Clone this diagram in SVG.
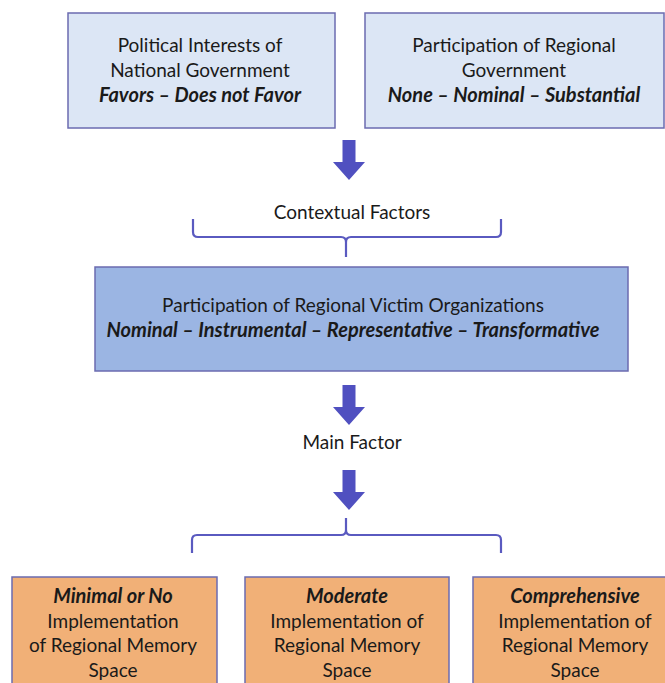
<svg xmlns="http://www.w3.org/2000/svg" width="665" height="683" viewBox="0 0 665 683">
<style>
text{font-family:Lato,"Open Sans","Liberation Sans",sans-serif;font-size:19px;fill:#1a1a1a;text-anchor:middle}
.b{font-weight:bold;font-style:italic;font-size:20px}
.light{fill:#dce6f5;stroke:#6b6bb0;stroke-width:1.5}
.mid{fill:#9bb5e3;stroke:#6b6bb0;stroke-width:1.5}
.orange{fill:#f1b077;stroke:#6b6bb0;stroke-width:1.5}
.arrow{fill:#5050c0}
.brace{fill:none;stroke:#5a5ac0;stroke-width:2.2;stroke-linejoin:round}
</style>
<defs>
<path id="arr" d="M-6.5,0 H6.5 V22 H16 L0,40 L-16,22 H-6.5 Z"/>
</defs>
<rect width="665" height="683" fill="#fff"/>
<g id="national">
<rect class="light" x="68" y="13" width="267" height="115"/>
<text x="200" y="52">Political Interests of</text>
<text x="200" y="77">National Government</text>
<text x="200" y="102" class="b">Favors – Does not Favor</text>
</g>
<g id="regional">
<rect class="light" x="365" y="13" width="299" height="115"/>
<text x="514" y="52">Participation of Regional</text>
<text x="514" y="77">Government</text>
<text x="514" y="102" class="b">None – Nominal – Substantial</text>
</g>
<g id="contextual">
<text x="352" y="219">Contextual Factors</text>
</g>
<g id="victims">
<rect class="mid" x="95" y="267" width="533" height="104"/>
<text x="353" y="312">Participation of Regional Victim Organizations</text>
<text x="353" y="337" class="b">Nominal – Instrumental – Representative – Transformative</text>
</g>
<g id="mainfactor">
<text x="352" y="449">Main Factor</text>
</g>
<g id="minimal">
<rect class="orange" x="12" y="577" width="205" height="120"/>
<text x="113" y="603" class="b">Minimal or No</text>
<text x="113" y="628">Implementation</text>
<text x="113" y="652">of Regional Memory</text>
<text x="113" y="677">Space</text>
</g>
<g id="moderate">
<rect class="orange" x="245" y="577" width="204" height="120"/>
<text x="347" y="603" class="b">Moderate</text>
<text x="347" y="628">Implementation of</text>
<text x="347" y="652">Regional Memory</text>
<text x="347" y="677">Space</text>
</g>
<g id="comprehensive">
<rect class="orange" x="473" y="577" width="205" height="120"/>
<text x="575" y="603" class="b">Comprehensive</text>
<text x="575" y="628">Implementation of</text>
<text x="575" y="652">Regional Memory</text>
<text x="575" y="677">Space</text>
</g>
<g id="connectors">
<use href="#arr" class="arrow" x="349" y="140"/>
<path class="brace" d="M193,219 V232 Q193,237 198,237 H341 Q346,237 346,242 V257 M346,242 Q346,237 351,237 H496 Q501,237 501,232 V219"/>
<use href="#arr" class="arrow" x="349" y="385"/>
<use href="#arr" class="arrow" x="349" y="470"/>
<path class="brace" d="M346,518 V530 Q346,535 341,535 H197 Q192,535 192,540 V553 M346,530 Q346,535 351,535 H496 Q501,535 501,540 V553"/>
</g>
</svg>
